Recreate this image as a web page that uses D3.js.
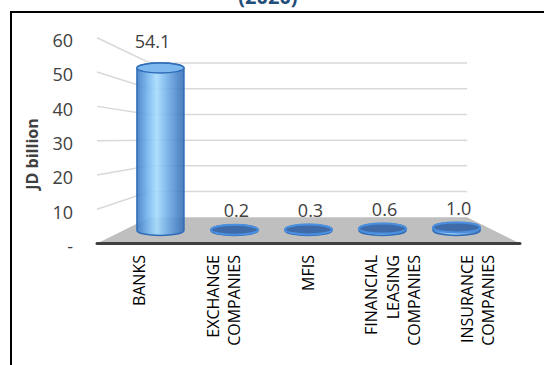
<!DOCTYPE html>
<html>
<head>
<meta charset="utf-8">
<script src="https://cdn.jsdelivr.net/npm/d3@7"></script>
<style>
  body { margin: 0; background: #fff; }
  svg { display: block; font-family: "Open Sans", sans-serif; }
</style>
</head>
<body>
<svg width="544" height="365"></svg>
<script>
const categories = ["BANKS", "EXCHANGE COMPANIES", "MFIS", "FINANCIAL LEASING COMPANIES", "INSURANCE COMPANIES"];
const categoryLines = [["BANKS"], ["EXCHANGE", "COMPANIES"], ["MFIS"], ["FINANCIAL", "LEASING", "COMPANIES"], ["INSURANCE", "COMPANIES"]];
const values = [54.1, 0.2, 0.3, 0.6, 1.0];
const valueLabels = ["54.1", "0.2", "0.3", "0.6", "1.0"];
const yTicks = [0, 10, 20, 30, 40, 50, 60];
const yTickLabels = ["-", "10", "20", "30", "40", "50", "60"];

const svg = d3.select("svg");

// front plane scales, then a simple perspective toward a vanishing point
const x = d3.scaleBand().domain(categories).range([97, 520]);
const y = d3.scaleLinear().domain([0, 60]).range([243.5, 37.8]);
const vp = { x: 308.5, y: 138.6 };
const backDepth = 0.75;
const barDepth = 0.875;
const proj = (px, py, s) => [vp.x + s * (px - vp.x), vp.y + s * (py - vp.y)];

// frame
svg.append("rect")
    .attr("x", 11).attr("y", 12)
    .attr("width", 560).attr("height", 380)
    .attr("fill", "none")
    .attr("stroke", "#000")
    .attr("stroke-width", 2);

// title (cut off at the top, as in the source)
svg.append("text")
    .attr("x", 268).attr("y", 4)
    .attr("text-anchor", "middle")
    .attr("fill", "#1F4E79")
    .style("font-size", "20px")
    .style("font-weight", "bold")
    .text("(2020)");

// floor
const [x0, x1] = x.range();
const floor = [proj(x0, y(0), 1), proj(x1, y(0), 1), proj(x1, y(0), backDepth), proj(x0, y(0), backDepth)];
svg.append("path")
    .attr("d", d3.line()(floor) + "Z")
    .attr("fill", "#BFBFBF");

// gridlines: side wall then back wall
const grid = svg.append("g")
    .attr("fill", "none")
    .attr("stroke", "#D9D9D9")
    .attr("stroke-width", 1.5);
yTicks.filter(t => t > 0).forEach(t => {
    grid.append("path")
        .attr("d", d3.line()([proj(x0, y(t), 1), proj(x0, y(t), backDepth), proj(x1, y(t), backDepth)]));
});

// front edge of the floor
svg.append("line")
    .attr("x1", x0).attr("x2", x1)
    .attr("y1", y(0)).attr("y2", y(0))
    .attr("stroke", "#404040")
    .attr("stroke-width", 3)
    .attr("stroke-linecap", "round");

// y tick labels
svg.append("g").selectAll("text")
    .data(yTicks)
    .join("text")
    .attr("x", 73)
    .attr("y", d => y(d) + 3)
    .attr("dy", "0.35em")
    .attr("text-anchor", "end")
    .attr("fill", "#404040")
    .style("font-size", "18px")
    .text((d, i) => yTickLabels[i]);

svg.append("text")
    .attr("transform", "translate(32,154) rotate(-90)")
    .attr("text-anchor", "middle")
    .attr("dy", "0.35em")
    .attr("fill", "#404040")
    .style("font-size", "16px")
    .style("font-weight", "bold")
    .text("JD billion");

// cylinder gradient
const defs = svg.append("defs");
const grad = defs.append("linearGradient").attr("id", "cyl").attr("x1", 0).attr("x2", 1).attr("y1", 0).attr("y2", 0);
[[0, "#3E7CC6"], [0.25, "#7AB9F0"], [0.42, "#A6DBFD"], [0.6, "#7CB7EE"], [0.85, "#4D88CC"], [1, "#3A70B3"]]
    .forEach(([o, c]) => grad.append("stop").attr("offset", o).attr("stop-color", c));

// bars as cylinders
const bars = svg.append("g");
categories.forEach((c, i) => {
    const cxFront = x(c) + x.bandwidth() / 2;
    const [cx, bot] = proj(cxFront, y(0), barDepth);
    const [, top] = proj(cxFront, y(values[i]), barDepth);
    const rx = 23.5, ry = 5;
    const g = bars.append("g");
    g.append("path")
        .attr("d", `M${cx - rx},${top} L${cx - rx},${bot} A${rx},${ry} 0 0 0 ${cx + rx},${bot} L${cx + rx},${top} A${rx},${ry} 0 0 0 ${cx - rx},${top}Z`)
        .attr("fill", "url(#cyl)")
        .attr("fill-opacity", 0.9)
        .attr("stroke", "#2F6DB8")
        .attr("stroke-width", 1.5);
    g.append("ellipse")
        .attr("cx", cx).attr("cy", top)
        .attr("rx", rx).attr("ry", ry)
        .attr("fill", values[i] > 5 ? "#7FB8EE" : "#3F6CA8")
        .attr("stroke", values[i] > 5 ? "#2F6DB8" : "#4A8FE0")
        .attr("stroke-width", values[i] > 5 ? 1.5 : 2);

    // value label
    const lx = values[i] > 5 ? cx - 8 : cx + 2;
    const ly = values[i] > 5 ? top - 26 : Math.min(top, bot) - 19;
    svg.append("text")
        .attr("x", lx).attr("y", ly)
        .attr("dy", "0.35em")
        .attr("text-anchor", "middle")
        .attr("fill", "#404040")
        .style("font-size", "18px")
        .text(valueLabels[i]);
});

// category labels, rotated
const cat = svg.append("g");
categories.forEach((c, i) => {
    const lines = categoryLines[i];
    const cx = x(c) + x.bandwidth() / 2;
    const lh = 21.5;
    lines.forEach((ln, j) => {
        const off = (j - (lines.length - 1) / 2) * lh;
        cat.append("text")
            .attr("transform", `translate(${cx + off},255) rotate(-90)`)
            .attr("text-anchor", "end")
            .attr("dy", "0.35em")
            .attr("fill", "#000")
            .style("font-size", "16px")
            .text(ln);
    });
});
</script>
</body>
</html>
